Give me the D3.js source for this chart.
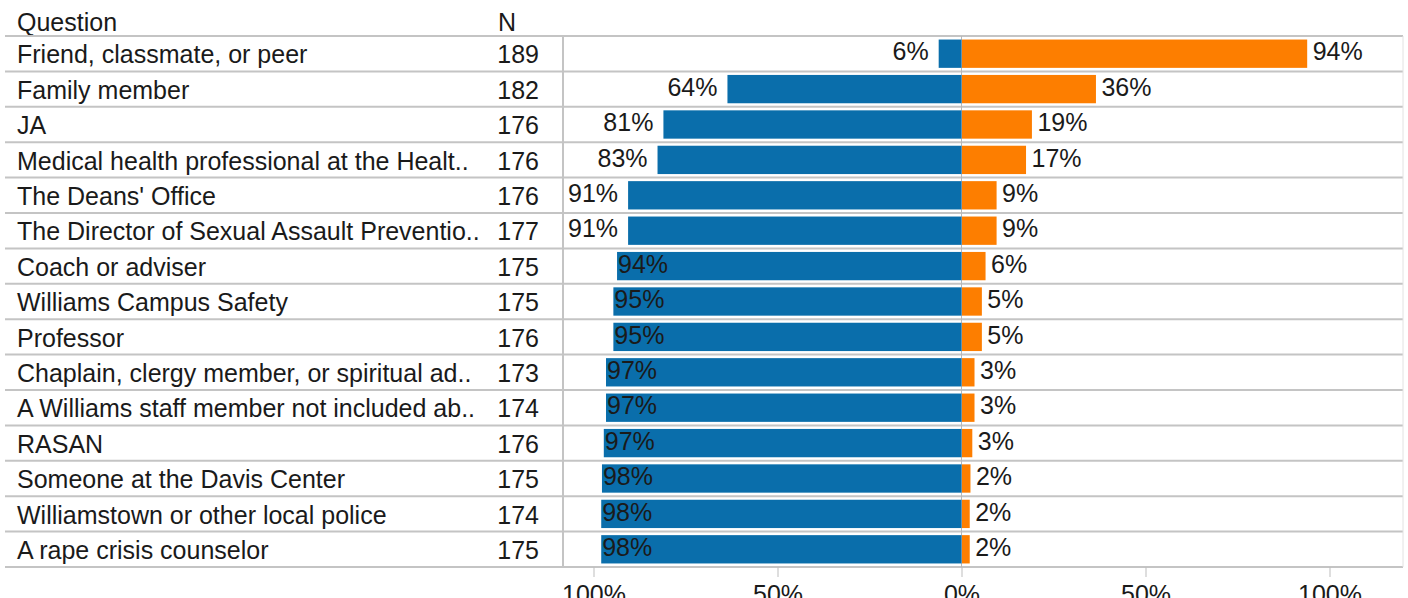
<!DOCTYPE html>
<html>
<head>
<meta charset="utf-8">
<script src="https://cdn.jsdelivr.net/npm/d3@7"></script>
<style>
  body { margin: 0; background: #fff; }
  text { font-family: "Liberation Sans", Arial, sans-serif; fill: #1a1a1a; }
</style>
</head>
<body>
<div id="chart"></div>
<script>
// questions, respondents and shares (blue = left side, orange = right side)
var questions = [
    "Friend, classmate, or peer",
    "Family member",
    "JA",
    "Medical health professional at the Healt..",
    "The Deans' Office",
    "The Director of Sexual Assault Preventio..",
    "Coach or adviser",
    "Williams Campus Safety",
    "Professor",
    "Chaplain, clergy member, or spiritual ad..",
    "A Williams staff member not included ab..",
    "RASAN",
    "Someone at the Davis Center",
    "Williamstown or other local police",
    "A rape crisis counselor"
];
var counts = [189, 182, 176, 176, 176, 177, 175, 175, 176, 173, 174, 176, 175, 174, 175];
var blueShare = [6.2, 63.6, 81.0, 82.6, 90.6, 90.6, 93.6, 94.6, 94.6, 96.6, 96.6, 97.2, 97.7, 97.9, 97.9];
var orangeShare = [93.8, 36.4, 19.0, 17.4, 9.4, 9.4, 6.4, 5.4, 5.4, 3.4, 3.4, 2.8, 2.3, 2.1, 2.1];
var axisTicks = [-100, -50, 0, 50, 100];

var width = 1408;
var height = 598;
var fontSize = 25;
var lineColor = "#c4c4c4";

var svg = d3.select("#chart")
    .append("svg")
    .attr("width", width)
    .attr("height", height);

// row bands
var y = d3.scaleBand()
    .domain(questions)
    .range([36, 567])
    .paddingInner(0.2)
    .paddingOuter(0.1);
var step = y.step();

// diverging percent scale
var x = d3.scaleLinear()
    .domain([-100, 100])
    .range([593.5, 1329.5]);

var paneLeft = 563;
var paneRight = 1403;

// header
svg.append("text").attr("x", 17).attr("y", 22).attr("dy", "0.35em")
    .style("font-size", fontSize + "px").text("Question");
svg.append("text").attr("x", 498).attr("y", 22).attr("dy", "0.35em")
    .style("font-size", fontSize + "px").text("N");

// row separator lines
var rowLines = d3.range(questions.length + 1).map(function (i) {
    return 36 + i * step;
});
svg.append("g")
    .selectAll("line")
    .data(rowLines)
    .enter()
    .append("line")
    .attr("x1", 5)
    .attr("x2", paneRight)
    .attr("y1", function (d) { return d; })
    .attr("y2", function (d) { return d; })
    .attr("stroke", lineColor)
    .attr("stroke-width", 2);

// vertical dividers
svg.append("line")
    .attr("x1", paneLeft).attr("x2", paneLeft)
    .attr("y1", 36).attr("y2", 568)
    .attr("stroke", lineColor).attr("stroke-width", 2);
svg.append("line")
    .attr("x1", paneRight).attr("x2", paneRight)
    .attr("y1", 36).attr("y2", 567)
    .attr("stroke", "#e2e2e2").attr("stroke-width", 1);
svg.append("line")
    .attr("x1", x(0)).attr("x2", x(0))
    .attr("y1", 36).attr("y2", 567)
    .attr("stroke", "#b8b8b8").attr("stroke-width", 1);

// row labels
var rows = svg.append("g")
    .selectAll("g")
    .data(questions)
    .enter()
    .append("g");

rows.append("text")
    .attr("x", 17)
    .attr("y", function (d) { return y(d) + y.bandwidth() / 2 + 1; })
    .attr("dy", "0.35em")
    .style("font-size", fontSize + "px")
    .text(function (d) { return d; });

rows.append("text")
    .attr("x", 539)
    .attr("y", function (d) { return y(d) + y.bandwidth() / 2 + 1; })
    .attr("dy", "0.35em")
    .attr("text-anchor", "end")
    .style("font-size", fontSize + "px")
    .text(function (d, i) { return counts[i]; });

// blue bars (left)
svg.append("g")
    .selectAll("rect")
    .data(blueShare)
    .enter()
    .append("rect")
    .attr("x", function (d) { return x(-d); })
    .attr("y", function (d, i) { return y(questions[i]); })
    .attr("width", function (d) { return x(0) - x(-d); })
    .attr("height", y.bandwidth())
    .attr("fill", "#0a6eab");

// orange bars (right)
svg.append("g")
    .selectAll("rect")
    .data(orangeShare)
    .enter()
    .append("rect")
    .attr("x", x(0) + 0.5)
    .attr("y", function (d, i) { return y(questions[i]); })
    .attr("width", function (d) { return x(d) - x(0); })
    .attr("height", y.bandwidth())
    .attr("fill", "#fd7e00");

// blue labels: outside the bar if it fits, else inside
var labelW = 50;
var fitsOutside = function (d) { return x(-d) - 10 - labelW >= paneLeft; };
svg.append("g")
    .selectAll("text")
    .data(blueShare)
    .enter()
    .append("text")
    .attr("x", function (d) {
        return fitsOutside(d) ? x(-d) - 10 : x(-d) + 1;
    })
    .attr("text-anchor", function (d) {
        return fitsOutside(d) ? "end" : "start";
    })
    .attr("y", function (d, i) { return y(questions[i]) + y.bandwidth() / 2 - 2; })
    .attr("dy", "0.35em")
    .style("font-size", fontSize + "px")
    .text(function (d) { return Math.round(d) + "%"; });

// orange labels
svg.append("g")
    .selectAll("text")
    .data(orangeShare)
    .enter()
    .append("text")
    .attr("x", function (d) { return x(d) + 6; })
    .attr("y", function (d, i) { return y(questions[i]) + y.bandwidth() / 2 - 2; })
    .attr("dy", "0.35em")
    .style("font-size", fontSize + "px")
    .text(function (d) { return Math.round(d) + "%"; });

// bottom axis
var axis = svg.append("g")
    .attr("transform", "translate(0,567)")
    .call(d3.axisBottom(x)
        .tickValues(axisTicks)
        .tickSize(10)
        .tickPadding(8)
        .tickFormat(function (d) { return Math.abs(d) + "%"; }));
axis.select(".domain").remove();
axis.selectAll(".tick line").attr("stroke", "#bdbdbd");
axis.selectAll(".tick text")
    .style("font-size", fontSize + "px")
    .style("font-family", "Liberation Sans, Arial, sans-serif")
    .attr("fill", "#1a1a1a");
</script>
</body>
</html>
